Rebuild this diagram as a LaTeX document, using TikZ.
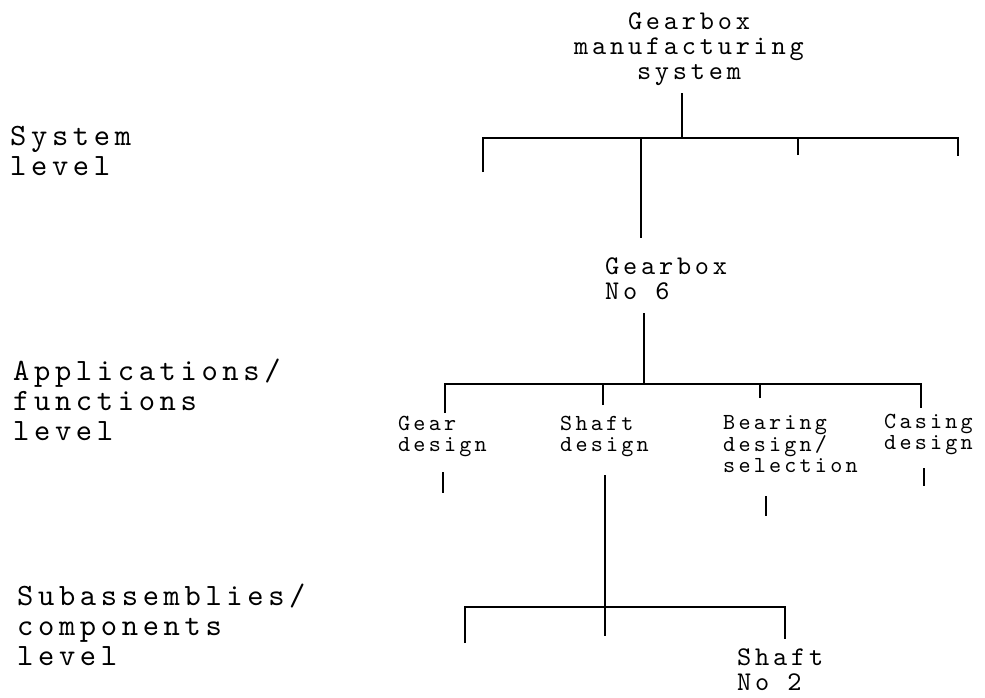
\documentclass[tikz,border=0pt]{standalone}
\usepackage{fontspec}
% typewriter lettering with wide tracking, in three sizes
\newfontfamily\levelface[LetterSpace=15]{lmmono10-regular.otf}
\newfontfamily\itemface[LetterSpace=14]{lmmono10-regular.otf}
\newfontfamily\leafface[LetterSpace=14]{lmmono10-regular.otf}
\newcommand{\lines}[2]{\begin{tabular}[t]{@{}#1@{}}#2\end{tabular}}
\tikzset{
  tree/.style={line width=2.6pt, line cap=butt, line join=miter},
  levellabel/.style={anchor=base west, inner sep=0pt,
    font=\levelface\fontsize{31}{30}\selectfont},
  itemlabel/.style={anchor=base west, inner sep=0pt,
    font=\itemface\fontsize{27}{25}\selectfont},
  leaflabel/.style={anchor=base west, inner sep=0pt,
    font=\leafface\fontsize{23}{21}\selectfont}
}
\begin{document}
\begin{tikzpicture}[x=1pt,y=-1pt]
\useasboundingbox (0,0) rectangle (985,697);

% level names on the left
\node[levellabel] (lvsys) at (10,145) {\lines{l}{System\\level}};
\node[levellabel] (lvapp) at (13,380) {\lines{l}{Applications/\\functions\\level}};
\node[levellabel] (lvsub) at (17,605) {\lines{l}{Subassemblies/\\components\\level}};

% system level
\node[itemlabel, anchor=base] (sys) at (689,29) {\lines{c}{Gearbox\\manufacturing\\system}};
\coordinate (sysstem) at (682,93);
\coordinate (sysbar) at (682,138);
\coordinate (sysa) at (483,172);
\coordinate (sysb) at (641,138);
\coordinate (sysc) at (798,155);
\coordinate (sysd) at (958,156);
\coordinate (gbtop) at (641,238);
\draw[tree] (sysstem) -- (sysbar);
\draw[tree] (sysa) |- (sysbar) -| (sysd);
\draw[tree] (sysb) -- (gbtop);
\draw[tree] (sysc) -- (sysc |- sysbar);

% gearbox No 6 and its functions
\node[itemlabel] (gb) at (605,274) {\lines{l}{Gearbox\\No 6}};
\coordinate (gbstem) at (644,313);
\coordinate (gbbar) at (644,384);
\coordinate (fgear) at (445,413);
\coordinate (fshaft) at (603,405);
\coordinate (fbear) at (760,398);
\coordinate (fcase) at (921,408);
\draw[tree] (gbstem) -- (gbbar);
\draw[tree] (fgear) |- (gbbar) -| (fcase);
\draw[tree] (fshaft) -- (fshaft |- gbbar);
\draw[tree] (fbear) -- (fbear |- gbbar);

\node[leaflabel] (gear) at (398,430) {\lines{l}{Gear\\design}};
\node[leaflabel] (shaft) at (560,430) {\lines{l}{Shaft\\design}};
\node[leaflabel] (bearing) at (723,429) {\lines{l}{Bearing\\design/\\selection}};
\node[leaflabel] (casing) at (884,428) {\lines{l}{Casing\\design}};

% stubs below the functions
\coordinate (gearA) at (443,472);
\coordinate (gearB) at (443,493);
\coordinate (bearA) at (766,496);
\coordinate (bearB) at (766,516);
\coordinate (caseA) at (924,468);
\coordinate (caseB) at (924,486);
\draw[tree] (gearA) -- (gearB);
\draw[tree] (bearA) -- (bearB);
\draw[tree] (caseA) -- (caseB);

% shaft design subassemblies
\coordinate (shstem) at (605,475);
\coordinate (shbar) at (605,607);
\coordinate (suba) at (465,643);
\coordinate (subb) at (605,636);
\coordinate (subc) at (785,639);
\draw[tree] (shstem) -- (subb);
\draw[tree] (suba) |- (shbar) -| (subc);

\node[itemlabel] (shaft2) at (737,665) {\lines{l}{Shaft\\No 2}};
\end{tikzpicture}
\end{document}
